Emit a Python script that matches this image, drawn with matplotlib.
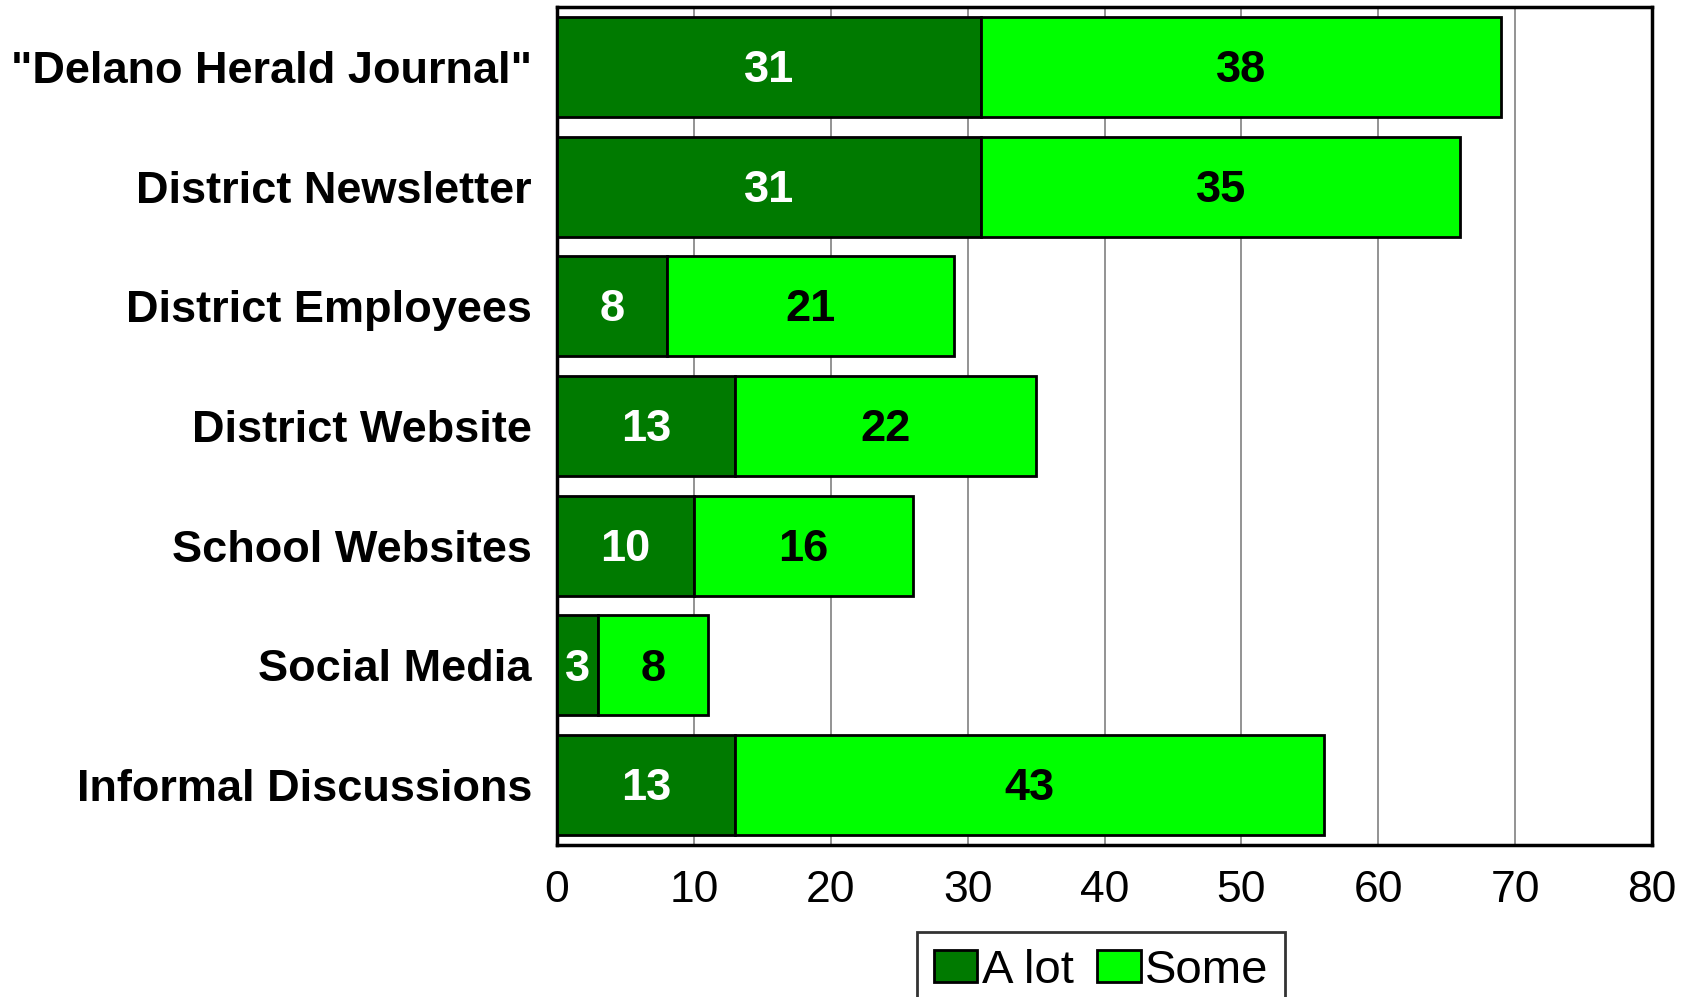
import matplotlib
matplotlib.use("Agg")
import matplotlib.pyplot as plt
import numpy as np

plt.rcParams['font.family'] = ['Liberation Sans', 'DejaVu Sans']

sources = ['"Delano Herald Journal"', 'District Newsletter', 'District Employees',
           'District Website', 'School Websites', 'Social Media', 'Informal Discussions']
a_lot = [31, 31, 8, 13, 10, 3, 13]
some = [38, 35, 21, 22, 16, 8, 43]

dark = '#007a00'
light = '#00ff00'

fig = plt.figure(figsize=(16.94, 9.97), dpi=100)
ax = fig.add_axes([557/1694, 1-845/997, (1652-557)/1694, (845-7)/997])

y = np.arange(len(sources))
h = 0.835
ax.barh(y, a_lot, height=h, color=dark, edgecolor='black', linewidth=2, label='A lot', zorder=3)
ax.barh(y, some, left=a_lot, height=h, color=light, edgecolor='black', linewidth=2, label='Some', zorder=3)

# value labels inside each segment
for i in range(len(sources)):
    ax.text(a_lot[i]/2, y[i] + 0.03, str(a_lot[i]), ha='center', va='center', color='white',
            fontsize=32.5, fontweight='bold', zorder=4)
    ax.text(a_lot[i] + some[i]/2, y[i] + 0.03, str(some[i]), ha='center', va='center', color='black',
            fontsize=32.5, fontweight='bold', zorder=4)

ax.set_xlim(0, 80)
ax.set_ylim(len(sources) - 0.5, -0.5)
ax.set_xticks(np.arange(0, 81, 10))
ax.set_yticks(y)
ax.set_yticklabels(sources, fontsize=32.5, fontweight='bold')
ax.tick_params(axis='x', labelsize=32, length=0, pad=18)
ax.tick_params(axis='y', length=0, pad=18)
ax.grid(axis='x', color='#808080', linewidth=1.2, zorder=0)
for s in ax.spines.values():
    s.set_linewidth(2.5)

leg = fig.legend(loc='upper left', bbox_to_anchor=(917/1694, 1-932/997), ncol=2,
                 fontsize=34, frameon=True, fancybox=False, edgecolor='black',
                 handlelength=0.92, handleheight=0.65, handletextpad=0.1, columnspacing=0.5,
                 borderpad=0.35, borderaxespad=0)
leg.get_frame().set_linewidth(2)

fig.savefig('out.png', dpi=100)
